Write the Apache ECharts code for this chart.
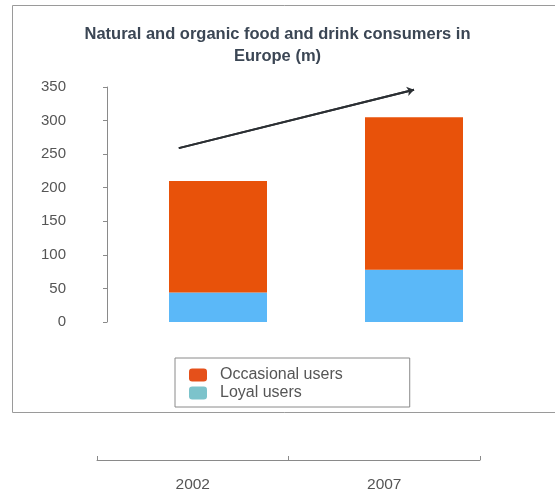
<!DOCTYPE html>
<html lang="en">
<head>
    <meta charset="UTF-8">
    <title>organic consumers</title>
    <script src="https://cdn.jsdelivr.net/npm/echarts@6/dist/echarts.min.js"></script>
    <style>
        html, body { margin: 0; padding: 0; background: #fff; }
        #chart { width: 555px; height: 494px; }
    </style>
</head>
<body>
<div id="chart"></div>
<script type="text/javascript">
    // values (millions)
    var years = ['2002', '2007'];
    var loyal = [44, 78];
    var occasional = [166, 227];
    var yTicks = [0, 350, 50];          // min, max, step
    // trend arrow, x in category index units, y in millions
    var arrowStart = [-0.2, 259];
    var arrowEnd = [1.0, 346];

    var labelFont = 'Liberation Sans, Arial, sans-serif';

    var myChart = echarts.init(document.getElementById('chart'));
    var option = {
        animation: false,
        title: {
            text: 'Natural and organic food and drink consumers in\nEurope (m)',
            left: 'center',
            top: 18,
            textStyle: {
                fontFamily: labelFont,
                fontSize: 16.5,
                fontWeight: 'bold',
                color: '#3b4654',
                lineHeight: 22
            }
        },
        graphic: [{
            type: 'rect',
            shape: { x: 12.5, y: 5.5, width: 560, height: 407 },
            style: { fill: 'none', stroke: '#9a9a9a', lineWidth: 1 },
            silent: true
        }],
        legend: {
            orient: 'vertical',
            left: 175,
            top: 358,
            padding: [9, 67, 6, 14],
            itemGap: 2,
            itemWidth: 18,
            itemHeight: 13,
            borderColor: '#8a8a8a',
            borderWidth: 1,
            backgroundColor: '#fff',
            textStyle: {
                fontFamily: labelFont,
                fontSize: 16,
                color: '#555',
                padding: [0, 0, 0, 8]
            },
            data: [
                { name: 'Occasional users', itemStyle: { color: '#e5501a' } },
                { name: 'Loyal users', itemStyle: { color: '#7cc3cb' } }
            ]
        },
        grid: [
            { left: 120, top: 87, width: 392, height: 235 },
            { left: 97, top: 440, width: 383, height: 20 }
        ],
        xAxis: [
            {
                type: 'category',
                gridIndex: 0,
                data: years,
                show: false
            },
            {
                type: 'value',
                gridIndex: 0,
                min: -0.5,
                max: 1.5,
                show: false
            },
            {
                type: 'category',
                gridIndex: 1,
                data: years,
                position: 'bottom',
                axisLine: { show: true, onZero: false, lineStyle: { color: '#8a8a8a' } },
                axisTick: { show: true, inside: true, length: 4, lineStyle: { color: '#8a8a8a' } },
                axisLabel: {
                    fontFamily: labelFont,
                    fontSize: 15.5,
                    color: '#555',
                    margin: 17
                }
            }
        ],
        yAxis: [
            {
                type: 'value',
                gridIndex: 0,
                min: yTicks[0],
                max: yTicks[1],
                interval: yTicks[2],
                offset: 13,
                axisLine: { show: true, onZero: false, lineStyle: { color: '#8a8a8a' } },
                axisTick: { show: true, length: 4, lineStyle: { color: '#8a8a8a' } },
                splitLine: { show: false },
                axisLabel: {
                    fontFamily: labelFont,
                    fontSize: 15,
                    color: '#555',
                    margin: 41
                }
            },
            {
                type: 'value',
                gridIndex: 1,
                min: 0,
                max: 1,
                show: false
            }
        ],
        series: [
            {
                name: 'Loyal users',
                type: 'bar',
                stack: 'total',
                xAxisIndex: 0,
                yAxisIndex: 0,
                barWidth: 98,
                itemStyle: { color: '#5bb8f8' },
                data: loyal
            },
            {
                name: 'Occasional users',
                type: 'bar',
                stack: 'total',
                xAxisIndex: 0,
                yAxisIndex: 0,
                barWidth: 98,
                itemStyle: { color: '#e8520a' },
                data: occasional
            },
            {
                name: 'trend',
                type: 'line',
                xAxisIndex: 1,
                yAxisIndex: 0,
                showSymbol: false,
                silent: true,
                lineStyle: { color: '#2b2f33', width: 2 },
                data: [arrowStart, arrowEnd],
                markLine: {
                    silent: true,
                    symbol: ['none', 'arrow'],
                    symbolSize: 7,
                    label: { show: false },
                    lineStyle: { color: '#2b2f33', width: 2, type: 'solid' },
                    data: [[{ coord: arrowStart }, { coord: arrowEnd }]]
                }
            }
        ]
    };

    myChart.setOption(option);
</script>
</body>
</html>
